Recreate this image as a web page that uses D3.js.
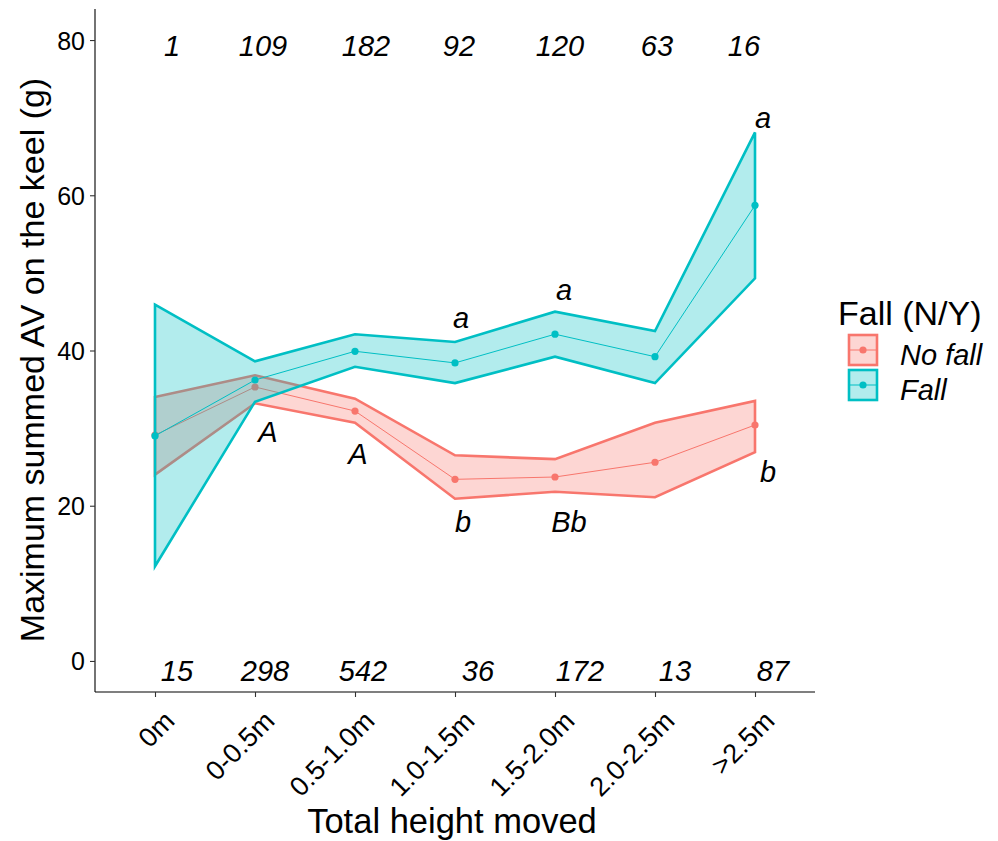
<!DOCTYPE html>
<html>
<head>
<meta charset="utf-8">
<script src="https://cdn.jsdelivr.net/npm/d3@7"></script>
<style>
  body { margin: 0; background: #fff; }
  svg { font-family: "Liberation Sans", Arial, sans-serif; }
</style>
</head>
<body>
<div id="chart"></div>
<script>
// categories and values
var categories = ["0m", "0-0.5m", "0.5-1.0m", "1.0-1.5m", "1.5-2.0m", "2.0-2.5m", ">2.5m"];
var noFallMean  = [29.1, 35.3, 32.2, 23.4, 23.7, 25.6, 30.4];
var noFallUpper = [34.0, 36.8, 33.8, 26.5, 26.0, 30.7, 33.5];
var noFallLower = [24.0, 33.2, 30.7, 20.9, 21.8, 21.1, 26.9];
var fallMean  = [29.0, 36.2, 39.9, 38.4, 42.1, 39.2, 58.7];
var fallUpper = [45.9, 38.6, 42.1, 41.1, 45.0, 42.5, 68.1];
var fallLower = [12.2, 33.4, 37.9, 35.8, 39.2, 35.8, 49.3];
var yTicks = [0, 20, 40, 60, 80];

// sample sizes (top row = fall, bottom row = no fall), x in category units
var topCounts = ["1", "109", "182", "92", "120", "63", "16"];
var topCountX = [0.17, 1.08, 2.11, 3.04, 4.05, 5.02, 5.89];
var bottomCounts = ["15", "298", "542", "36", "172", "13", "87"];
var bottomCountX = [0.22, 1.10, 2.08, 3.23, 4.25, 5.20, 6.18];

// significance letters
var letters = ["a", "a", "a", "A", "A", "b", "Bb", "b"];
var letterX = [3.06, 4.09, 6.08, 1.13, 2.03, 3.08, 4.14, 6.13];
var letterY = [42.9, 46.5, 68.7, 28.2, 25.4, 16.6, 16.6, 23.1];

var groups = ["No fall", "Fall"];
var colors = ["#F8766D", "#00BFC4"];

var W = 998, H = 841;
var svg = d3.select("#chart").append("svg").attr("width", W).attr("height", H);

var x = d3.scalePoint().domain(categories).range([95, 815]).padding(0.6);
var xNum = d3.scaleLinear().domain([0, categories.length - 1])
    .range([x(categories[0]), x(categories[categories.length - 1])]);
var y = d3.scaleLinear().domain([-4, 84]).range([692, 9]);

var series = [
    { name: groups[0], color: colors[0], mean: noFallMean, lo: noFallLower, hi: noFallUpper },
    { name: groups[1], color: colors[1], mean: fallMean, lo: fallLower, hi: fallUpper }
];

var area = d3.area()
    .x(function(d) { return x(d.c); })
    .y0(function(d) { return y(d.lo); })
    .y1(function(d) { return y(d.hi); });
var line = d3.line()
    .x(function(d) { return x(d.c); })
    .y(function(d) { return y(d.v); });

series.forEach(function(s) {
    var pts = categories.map(function(c, i) { return { c: c, v: s.mean[i], lo: s.lo[i], hi: s.hi[i] }; });
    var g = svg.append("g").attr("class", "series");
    // ribbon outline: upper edge, then lower edge back
    var outline = pts.map(function(d) { return [x(d.c), y(d.hi)]; })
        .concat(pts.slice().reverse().map(function(d) { return [x(d.c), y(d.lo)]; }));
    g.append("path")
        .attr("d", area(pts))
        .attr("fill", s.color)
        .attr("fill-opacity", 0.3)
        .attr("stroke", "none");
    g.append("path")
        .attr("d", d3.line()(outline) + "Z")
        .attr("fill", "none")
        .attr("stroke", s.color)
        .attr("stroke-width", 2.6)
        .attr("stroke-linejoin", "miter");
    g.append("path")
        .attr("d", line(pts))
        .attr("fill", "none")
        .attr("stroke", s.color)
        .attr("stroke-width", 1);
    g.selectAll("circle").data(pts).join("circle")
        .attr("cx", function(d) { return x(d.c); })
        .attr("cy", function(d) { return y(d.v); })
        .attr("r", 3.6)
        .attr("fill", s.color);
});

// axes
var yAxis = svg.append("g")
    .attr("transform", "translate(95,0)")
    .call(d3.axisLeft(y).tickValues(yTicks).tickSize(5).tickPadding(5).tickSizeOuter(0));
var xAxis = svg.append("g")
    .attr("transform", "translate(0,692)")
    .call(d3.axisBottom(x).tickSize(5).tickSizeOuter(0));
[yAxis, xAxis].forEach(function(a) {
    a.select(".domain").attr("stroke", "#000").attr("stroke-width", 1.1);
    a.selectAll(".tick line").attr("stroke", "#333").attr("stroke-width", 1.1);
});
// extend domain lines so they meet at the corner
yAxis.select(".domain").attr("d", "M0," + y(84) + "V" + 692);
xAxis.select(".domain").attr("d", "M95,0H815");

yAxis.selectAll(".tick text")
    .attr("fill", "#000")
    .style("font-size", "25px")
    .attr("x", -10)
    .attr("dy", "0.36em");
xAxis.selectAll(".tick text")
    .attr("fill", "#000")
    .style("font-size", "27px")
    .attr("text-anchor", "end")
    .attr("dy", null)
    .attr("y", null)
    .attr("transform", "translate(7,17) rotate(-45)")
    .attr("dominant-baseline", "hanging");

// sample size labels
svg.append("g").selectAll("text").data(topCounts).join("text")
    .attr("x", function(d, i) { return xNum(topCountX[i]); })
    .attr("y", y(80))
    .attr("dy", "0.55em")
    .attr("text-anchor", "middle")
    .style("font-size", "29px")
    .style("font-style", "italic")
    .text(function(d) { return d; });
svg.append("g").selectAll("text").data(bottomCounts).join("text")
    .attr("x", function(d, i) { return xNum(bottomCountX[i]); })
    .attr("y", y(0))
    .attr("dy", "0.68em")
    .attr("text-anchor", "middle")
    .style("font-size", "29px")
    .style("font-style", "italic")
    .text(function(d) { return d; });

// letters
svg.append("g").selectAll("text").data(letters).join("text")
    .attr("x", function(d, i) { return xNum(letterX[i]); })
    .attr("y", function(d, i) { return y(letterY[i]); })
    .attr("text-anchor", "middle")
    .style("font-size", "29px")
    .style("font-style", "italic")
    .text(function(d) { return d; });

// axis titles
svg.append("text")
    .attr("transform", "translate(44,360) rotate(-90)")
    .attr("text-anchor", "middle")
    .style("font-size", "34px")
    .text("Maximum summed AV on the keel (g)");
svg.append("text")
    .attr("x", 452).attr("y", 833)
    .attr("text-anchor", "middle")
    .style("font-size", "34.5px")
    .text("Total height moved");

// legend
var legend = svg.append("g").attr("transform", "translate(838,0)");
legend.append("text")
    .attr("x", 0).attr("y", 325)
    .style("font-size", "34px")
    .text("Fall (N/Y)");
series.forEach(function(s, i) {
    var top = 335 + i * 35;
    var k = legend.append("g").attr("transform", "translate(11," + top + ")");
    k.append("rect")
        .attr("x", 0).attr("y", 0).attr("width", 28).attr("height", 30)
        .attr("fill", s.color).attr("fill-opacity", 0.3)
        .attr("stroke", s.color).attr("stroke-width", 2.6);
    k.append("line")
        .attr("x1", 0).attr("x2", 28).attr("y1", 15).attr("y2", 15)
        .attr("stroke", s.color).attr("stroke-width", 1);
    k.append("circle")
        .attr("cx", 14).attr("cy", 15).attr("r", 3.6)
        .attr("fill", s.color);
    legend.append("text")
        .attr("x", 62).attr("y", top + 30)
        .style("font-size", "29px")
        .style("font-style", "italic")
        .text(s.name);
});
</script>
</body>
</html>
